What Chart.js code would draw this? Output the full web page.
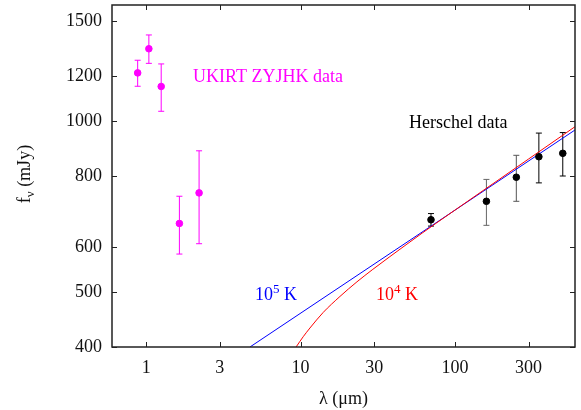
<!DOCTYPE html>
<html>
<head>
<meta charset="utf-8">
<script src="https://cdn.jsdelivr.net/npm/chart.js@4"></script>
<style>
  html, body { margin: 0; padding: 0; background: #fff; }
  #wrap { width: 581px; height: 410px; }
</style>
</head>
<body>
<div id="wrap"><canvas id="myChart" width="581" height="410"></canvas></div>
<script>
// UKIRT ZYJHK photometry
const ukirtLam = [0.88, 1.04, 1.25, 1.64, 2.2];
const ukirtFlux = [1215, 1340, 1150, 660, 747];
const ukirtErr = [64, 77, 110, 77, 139];

// Herschel photometry
const herschelLam = [70, 160, 250, 350, 500];
const herschelFlux = [670, 722, 796, 865, 877];
const herschelErr = [17, 67, 74, 87, 77];

// model curves
const hotLam = [4.7, 600];
const hotFlux = [400, 964];
const coolLam = [9.35, 10.4, 11.5, 14, 18, 23.2, 29.4, 37.9, 48.9, 62, 76.4, 150, 300, 600];
const coolFlux = [400, 417, 432, 460, 491, 521, 548, 577, 607, 636, 662, 752, 857, 977];

// tick labels
const xTicks = [1, 3, 10, 30, 100, 300];
const yTicks = [400, 500, 600, 800, 1000, 1200, 1500];

const FONT = "'Liberation Serif', 'DejaVu Serif', serif";
const MAGENTA = "#ff00ff";

const pts = (xs, ys) => xs.map((x, i) => ({ x: x, y: ys[i] }));

const errorBars = {
  id: "errorBars",
  beforeDatasetsDraw(chart) {
    const ctx = chart.ctx, xs = chart.scales.x, ys = chart.scales.y;
    chart.data.datasets.forEach(ds => {
      if (!ds.errors) return;
      ds.data.forEach((p, i) => {
        const px = xs.getPixelForValue(p.x);
        const top = ys.getPixelForValue(p.y + ds.errors[i]);
        const bot = ys.getPixelForValue(p.y - ds.errors[i]);
        ctx.save();
        ctx.strokeStyle = Array.isArray(ds.errColor) ? ds.errColor[i] : ds.errColor;
        ctx.lineWidth = 1;
        ctx.beginPath();
        ctx.moveTo(px, top); ctx.lineTo(px, bot);
        ctx.moveTo(px - 3, top); ctx.lineTo(px + 3, top);
        ctx.moveTo(px - 3, bot); ctx.lineTo(px + 3, bot);
        ctx.stroke();
        ctx.restore();
      });
    });
  }
};

const frame = {
  id: "frame",
  afterDraw(chart) {
    const ctx = chart.ctx, a = chart.chartArea;
    const xs = chart.scales.x, ys = chart.scales.y;
    ctx.save();
    ctx.strokeStyle = "#222";
    ctx.lineWidth = 1;
    ctx.beginPath();
    xTicks.forEach(v => {
      const px = Math.round(xs.getPixelForValue(v)) + 0.5;
      ctx.moveTo(px, a.bottom); ctx.lineTo(px, a.bottom - 5);
      ctx.moveTo(px, a.top); ctx.lineTo(px, a.top + 5);
    });
    yTicks.forEach(v => {
      const py = Math.round(ys.getPixelForValue(v)) + 0.5;
      ctx.moveTo(a.left, py); ctx.lineTo(a.left + 5, py);
      ctx.moveTo(a.right, py); ctx.lineTo(a.right - 5, py);
    });
    ctx.stroke();
    ctx.lineWidth = 1.5;
    ctx.strokeRect(a.left, a.top, a.right - a.left, a.bottom - a.top);

    // annotations
    ctx.font = "18px " + FONT;
    ctx.textBaseline = "alphabetic";
    ctx.fillStyle = MAGENTA;
    ctx.fillText("UKIRT ZYJHK data", 193, 82);
    ctx.fillStyle = "#000";
    ctx.fillText("Herschel data", 409, 128);

    const powLabel = (x, y, exp, color) => {
      ctx.fillStyle = color;
      ctx.font = "18px " + FONT;
      ctx.fillText("10", x, y);
      let w = ctx.measureText("10").width;
      ctx.font = "13px " + FONT;
      ctx.fillText(exp, x + w, y - 7);
      w += ctx.measureText(exp).width;
      ctx.font = "18px " + FONT;
      ctx.fillText(" K", x + w, y);
    };
    powLabel(255, 300, "5", "#0000ff");
    powLabel(376, 300, "4", "#ff0000");

    // y axis title f_nu (mJy)
    ctx.translate(30, 173);
    ctx.rotate(-Math.PI / 2);
    ctx.fillStyle = "#111";
    ctx.font = "18px " + FONT;
    const full = ctx.measureText("f").width + 8 + ctx.measureText(" (mJy)").width;
    let x0 = -full / 2;
    ctx.fillText("f", x0, 0);
    x0 += ctx.measureText("f").width;
    ctx.font = "13px " + FONT;
    ctx.fillText("\u03bd", x0, 4);
    x0 += ctx.measureText("\u03bd").width;
    ctx.font = "18px " + FONT;
    ctx.fillText(" (mJy)", x0, 0);
    ctx.restore();
  }
};

new Chart(document.getElementById("myChart"), {
  type: "scatter",
  data: {
    datasets: [
      {
        label: "10^5 K",
        data: pts(hotLam, hotFlux),
        showLine: true,
        borderColor: "#0000ff",
        borderWidth: 1,
        pointRadius: 0,
        order: 3,
      },
      {
        label: "10^4 K",
        data: pts(coolLam, coolFlux),
        showLine: true,
        cubicInterpolationMode: "monotone",
        borderColor: "#ff0000",
        borderWidth: 1,
        pointRadius: 0,
        order: 2,
      },
      {
        label: "UKIRT ZYJHK data",
        data: pts(ukirtLam, ukirtFlux),
        errors: ukirtErr,
        errColor: MAGENTA,
        backgroundColor: MAGENTA,
        borderColor: MAGENTA,
        pointRadius: 3.3,
        order: 1,
      },
      {
        label: "Herschel data",
        data: pts(herschelLam, herschelFlux),
        errors: herschelErr,
        errColor: ["#000", "#666", "#555", "#000", "#000"],
        backgroundColor: "#000",
        borderColor: "#000",
        pointRadius: 3.3,
        order: 0,
      }
    ]
  },
  options: {
    responsive: false,
    animation: false,
    layout: { padding: { left: 0, right: 6, top: 5, bottom: 0 } },
    plugins: {
      legend: { display: false },
      tooltip: { enabled: false }
    },
    scales: {
      x: {
        type: "logarithmic",
        min: 0.6,
        max: 600,
        afterBuildTicks: s => { s.ticks = xTicks.map(v => ({ value: v })); },
        afterFit: s => { s.height = 63; s.paddingLeft = 0; s.paddingRight = 0; },
        grid: { display: false, drawTicks: false },
        border: { display: false },
        ticks: {
          autoSkip: false,
          maxRotation: 0,
          padding: 10,
          color: "#111",
          font: { family: FONT, size: 18 },
          callback: v => String(v)
        },
        title: {
          display: true,
          text: "\u03bb (\u03bcm)",
          color: "#111",
          padding: { top: 4, bottom: 0 },
          font: { family: FONT, size: 18 }
        }
      },
      y: {
        type: "logarithmic",
        min: 400,
        max: 1600,
        afterBuildTicks: s => { s.ticks = yTicks.map(v => ({ value: v })); },
        afterFit: s => { s.width = 112; s.paddingTop = 0; s.paddingBottom = 0; },
        grid: { display: false, drawTicks: false },
        border: { display: false },
        ticks: {
          autoSkip: false,
          padding: 10,
          color: "#111",
          font: { family: FONT, size: 18 },
          callback: v => String(v)
        }
      }
    }
  },
  plugins: [errorBars, frame]
});
</script>
</body>
</html>
